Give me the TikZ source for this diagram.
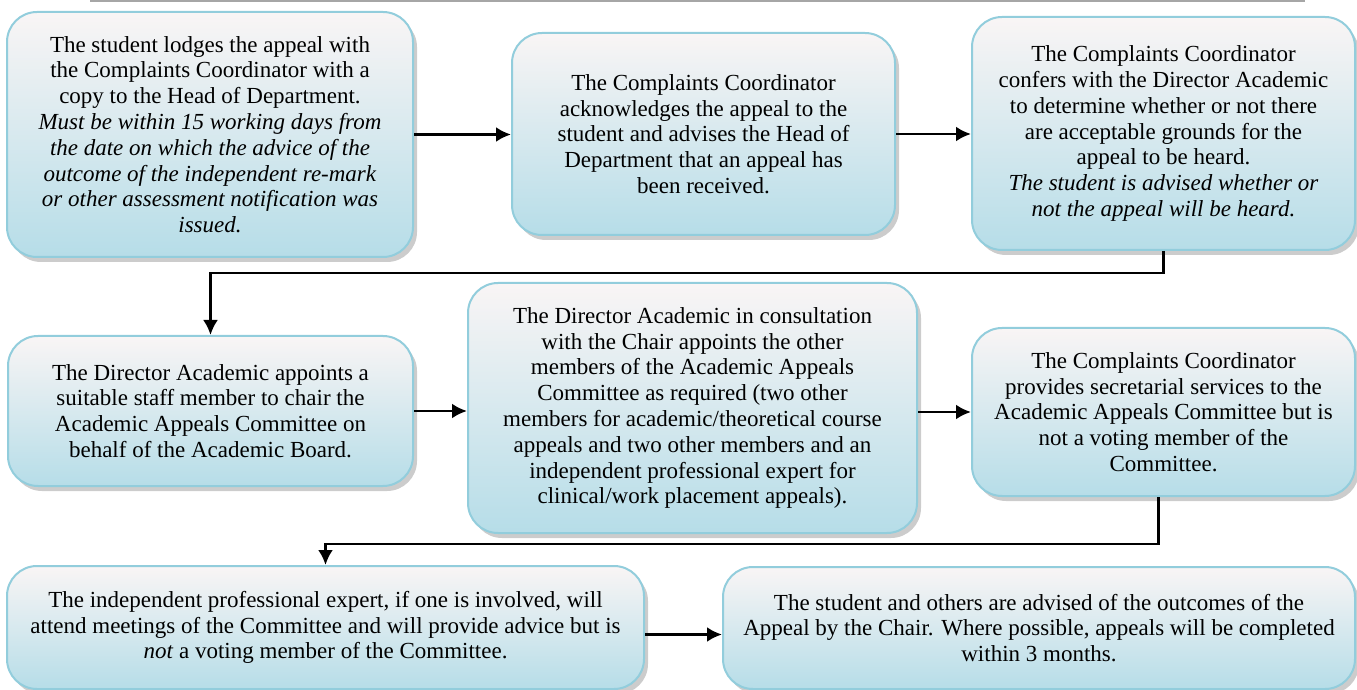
\documentclass[tikz,border=0pt]{standalone}
\usepackage{fontspec}
\setmainfont{Liberation Serif}
\usetikzlibrary{arrows.meta,shadows}
\definecolor{boxline}{HTML}{92CDDC}
\definecolor{boxtop}{HTML}{F9F5F5}
\definecolor{boxbottom}{HTML}{B6DDE8}
\definecolor{rulegray}{HTML}{A6A6A6}
\tikzset{
  stepbox/.style={draw=boxline, line width=1pt, rounded corners=15pt,
    top color=boxtop, bottom color=boxbottom, align=center, inner sep=0pt,
    font=\fontsize{11.5}{12.9}\selectfont,
    drop shadow={shadow xshift=2pt, shadow yshift=-2.5pt, opacity=0.2, fill=black}},
  flow/.style={line width=1.4pt, -{Latex[length=7.5pt,width=7.5pt]}}
}
\begin{document}
\begin{tikzpicture}[x=0.5pt,y=-0.5pt]
        \useasboundingbox (0,0) rectangle (1357,690);
        \draw[rulegray, line width=1pt] (90,1) -- (1305,1);

        \node[stepbox, minimum width=203pt, minimum height=122.5pt] (lodge) at (210,134.5)
            {The student lodges the appeal with\\the Complaints Coordinator with a\\copy to the Head of Department.\\
             \textit{Must be within 15 working days from}\\\textit{the date on which the advice of the}\\
             \textit{outcome of the independent re-mark}\\\textit{or other assessment notification was}\\\textit{issued.}};
        \node[stepbox, minimum width=191.5pt, minimum height=101pt] (ack) at (703.5,134)
            {The Complaints Coordinator\\acknowledges the appeal to the\\student and advises the Head of\\
             Department that an appeal has\\been received.};
        \node[stepbox, minimum width=191.5pt, minimum height=116.5pt] (confer) at (1163.5,133.5)
            {The Complaints Coordinator\\confers with the Director Academic\\to determine whether or not there\\
             are acceptable grounds for the\\appeal to be heard.\\
             \textit{The student is advised whether or}\\\textit{not the appeal will be heard.}};
        \node[stepbox, minimum width=202.5pt, minimum height=75pt] (chair) at (210.5,411)
            {The Director Academic appoints a\\suitable staff member to chair the\\
             Academic Appeals Committee on\\behalf of the Academic Board.};
        \node[stepbox, minimum width=224.5pt, minimum height=125pt] (members) at (692.5,408)
            {The Director Academic in consultation\\with the Chair appoints the other\\
             members of the Academic Appeals\\Committee as required (two other\\
             members for academic/theoretical course\\appeals and two other members and an\\
             independent professional expert for\\clinical/work placement appeals).};
        \node[stepbox, minimum width=191.5pt, minimum height=84pt] (secretary) at (1163.5,412)
            {The Complaints Coordinator\\provides secretarial services to the\\
             Academic Appeals Committee but is\\not a voting member of the\\Committee.};
        \node[stepbox, minimum width=318.5pt, minimum height=61.5pt] (expert) at (325.5,627.5)
            {The independent professional expert, if one is involved, will\\
             attend meetings of the Committee and will provide advice but is\\
             \textit{not} a voting member of the Committee.};
        \node[stepbox, minimum width=316pt, minimum height=61pt] (outcome) at (1039,628)
            {The student and others are advised of the outcomes of the\\
             Appeal by the Chair. Where possible, appeals will be completed\\within 3 months.};

        \draw[flow] (lodge.east) -- (lodge.east -| ack.west);
        \draw[flow] (ack.east) -- (ack.east -| confer.west);
        \draw[flow] (confer.south) -- ++(0,22) -| (chair.north);
        \draw[flow] (chair.east) -- (chair.east -| members.west);
        \draw[flow] (members.east |- secretary.west) -- (secretary.west);
        \draw[flow] ([xshift=-2.5pt]secretary.south) -- ++(0,47) -| (expert.north);
        \draw[flow] ([yshift=-3.5pt]expert.east) -- ([yshift=-3.5pt]expert.east -| outcome.west);

\end{tikzpicture}
\end{document}
